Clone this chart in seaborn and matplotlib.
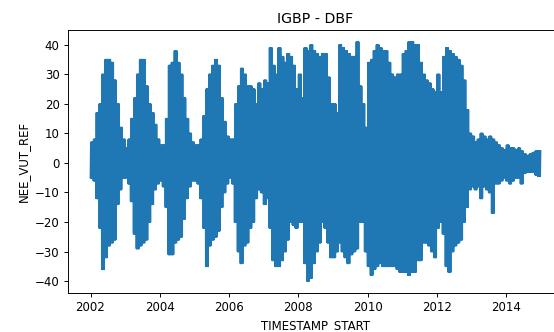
import numpy as np
import pandas as pd
import matplotlib
matplotlib.use("Agg")
import matplotlib.pyplot as plt
import seaborn as sns

plt.rcParams["path.simplify"] = False

# Monthly envelope of NEE_VUT_REF (Jan..Dec per year)
years = list(range(2002, 2015))

upper_2002 = [7, 8, 17, 20, 30, 35, 35, 34, 28, 20, 12, 8]
upper_2003 = [5, 8, 15, 22, 30, 35, 35, 26, 20, 17, 13, 8]
upper_2004 = [6, 6, 15, 33, 34, 38, 34, 30, 22, 15, 10, 7]
upper_2005 = [6, 6, 8, 16, 25, 30, 33, 35, 33, 22, 14, 9]
upper_2006 = [8, 8, 20, 26, 32, 30, 26, 26, 25, 20, 27, 25]
upper_2007 = [28, 27, 39, 33, 30, 39, 36, 34, 37, 36, 33, 25]
upper_2008 = [30, 22, 39, 38, 40, 38, 37, 36, 37, 37, 29, 20]
upper_2009 = [20, 17, 40, 39, 38, 37, 36, 36, 41, 26, 20, 12]
upper_2010 = [34, 35, 38, 40, 39, 38, 38, 34, 30, 29, 30, 30]
upper_2011 = [37, 38, 41, 41, 40, 40, 34, 30, 28, 27, 25, 24]
upper_2012 = [30, 24, 36, 39, 38, 37, 36, 35, 33, 28, 18, 10]
upper_2013 = [9, 7, 8, 10, 9, 8, 9, 8, 7, 6, 5, 4.5]
upper_2014 = [6, 5, 5, 4.5, 5, 4, 3, 2.5, 3, 3.5, 4, 4]

lower_2002 = [-5, -6, -12, -22, -36, -32, -28, -27, -26, -14, -9, -5]
lower_2003 = [-5, -7, -13, -24, -29, -28, -27, -26, -20, -14, -9, -7]
lower_2004 = [-6, -8, -15, -31, -31, -27, -26, -25, -19, -12, -8, -6]
lower_2005 = [-6, -7, -12, -22, -35, -28, -26, -25, -23, -15, -10, -7]
lower_2006 = [-5, -7, -20, -30, -34, -28, -27, -22, -20, -12, -9, -10]
lower_2007 = [-14, -12, -22, -33, -35, -35, -33, -30, -26, -20, -21, -22]
lower_2008 = [-20, -20, -34, -40, -39, -34, -30, -27, -20, -22, -27, -32]
lower_2009 = [-32, -30, -27, -30, -32, -34, -31, -30, -29, -20, -20, -30]
lower_2010 = [-35, -38, -36, -35, -34, -35, -35, -35, -35, -35, -36, -37]
lower_2011 = [-37, -37, -38, -37, -37, -33, -33, -27, -27, -28, -30, -32]
lower_2012 = [-22, -20, -24, -35, -37, -30, -28, -27, -26, -20, -15, -9]
lower_2013 = [-8, -9, -8, -12, -8, -9, -10, -17, -7, -7, -6, -5]
lower_2014 = [-6, -7, -6, -5, -5, -7, -3.5, -3, -3, -3, -4, -4.5]

upper = (upper_2002 + upper_2003 + upper_2004 + upper_2005 + upper_2006 +
         upper_2007 + upper_2008 + upper_2009 + upper_2010 + upper_2011 +
         upper_2012 + upper_2013 + upper_2014)
lower = (lower_2002 + lower_2003 + lower_2004 + lower_2005 + lower_2006 +
         lower_2007 + lower_2008 + lower_2009 + lower_2010 + lower_2011 +
         lower_2012 + lower_2013 + lower_2014)

months = pd.date_range(f"{years[0]}-01-01", periods=12 * len(years), freq="MS")

# Each month the half-hourly trace swings between its monthly minimum and
# maximum; draw those swings (uptake / release) densely and evenly spaced.
swings_per_month = 4
times, values = [], []
for m, lo, hi in zip(months, lower, upper):
    step = pd.Timedelta(days=m.days_in_month) / (2 * swings_per_month)
    for k in range(swings_per_month):
        times.append(m + step * (2 * k))
        values.append(lo)
        times.append(m + step * (2 * k + 1))
        values.append(hi)

df = pd.DataFrame({"TIMESTAMP_START": times, "NEE_VUT_REF": values})

DPI = 85
fig = plt.figure(figsize=(554 / DPI, 332 / DPI), dpi=DPI)
ax = fig.add_axes([68 / 554, 1 - 293 / 332, (563 - 68) / 554, (293 - 30) / 332])

sns.lineplot(data=df, x="TIMESTAMP_START", y="NEE_VUT_REF", estimator=None,
             sort=False, color="#1f77b4", linewidth=1.5, ax=ax)
ax.set_title("IGBP - DBF")

fig.savefig("out.png", dpi=DPI)
